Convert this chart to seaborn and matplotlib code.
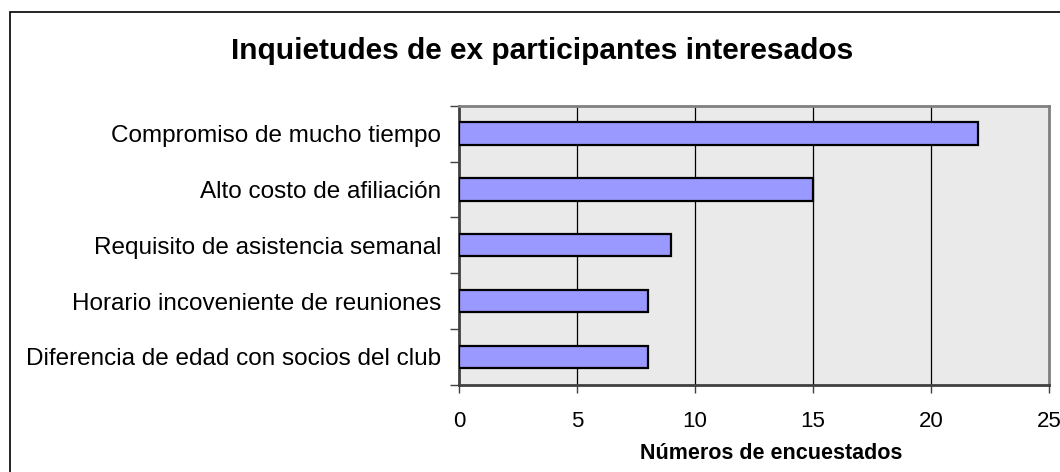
import matplotlib
matplotlib.use("Agg")
import matplotlib.pyplot as plt
import seaborn as sns
import pandas as pd
from matplotlib.patches import Rectangle

categories = [
    "Compromiso de mucho tiempo",
    "Alto costo de afiliación",
    "Requisito de asistencia semanal",
    "Horario incoveniente de reuniones",
    "Diferencia de edad con socios del club",
]
values = [22, 15, 9, 8, 8]
x_ticks = [0, 5, 10, 15, 20, 25]

title = "Inquietudes de ex participantes interesados"
x_label = "Números de encuestados"

sns.set_theme(style="white")
plt.rcParams["font.family"] = ["Liberation Sans", "DejaVu Sans"]
plt.rcParams["text.color"] = "black"
plt.rcParams["xtick.color"] = "black"
plt.rcParams["ytick.color"] = "black"
plt.rcParams["axes.labelcolor"] = "black"

df = pd.DataFrame({"cat": categories, "val": values})

W, H = 1060, 472
fig = plt.figure(figsize=(W / 100, H / 100), dpi=100)
ax = fig.add_axes([459 / W, 1 - 384.7 / H, (1049 - 459) / W, (384.7 - 105.7) / H])
ax.set_facecolor("#EAEAEA")

sns.barplot(data=df, x="val", y="cat", orient="h", order=categories,
            color="#9999FF", width=0.4, edgecolor="black", linewidth=1.6,
            saturation=1, ax=ax, zorder=3)

ax.set_xlim(0, 25)
ax.set_xticks(x_ticks)
ax.set_xticklabels([str(t) for t in x_ticks], fontsize=16)
ax.set_ylim(len(categories) - 0.5, -0.5)
ax.set_yticks([i for i in range(len(categories))])
ax.set_yticklabels(categories, fontsize=17.5)
ax.tick_params(axis="y", length=0, pad=13)
# boundary ticks on y axis
ax.set_yticks([i - 0.5 for i in range(len(categories) + 1)], minor=True)
ax.tick_params(axis="y", which="minor", direction="out", length=6.5, width=1, color="#404040", left=True)
ax.tick_params(axis="x", direction="out", length=6, width=1, color="#404040", pad=13, bottom=True)

for t in x_ticks[1:-1]:
    ax.axvline(t, color="black", linewidth=0.9, zorder=1)

for s in ["left", "bottom"]:
    ax.spines[s].set_color("#404040")
    ax.spines[s].set_linewidth(2)
for s in ["top", "right"]:
    ax.spines[s].set_color("#808080")
    ax.spines[s].set_linewidth(2)

ax.set_ylabel("")
ax.set_xlabel(x_label, fontsize=15.5, fontweight="bold")
ax.xaxis.set_label_coords(0.529, -0.21)

fig.text(542 / W, 1 - 51 / H, title, ha="center", va="center", fontsize=21.5, fontweight="bold")

fig.patches.append(Rectangle((10 / W, -0.1), 2, (H - 12) / H + 0.1, transform=fig.transFigure,
                             fill=False, edgecolor="black", linewidth=1.2, zorder=10))

fig.savefig("out.png", dpi=100)
